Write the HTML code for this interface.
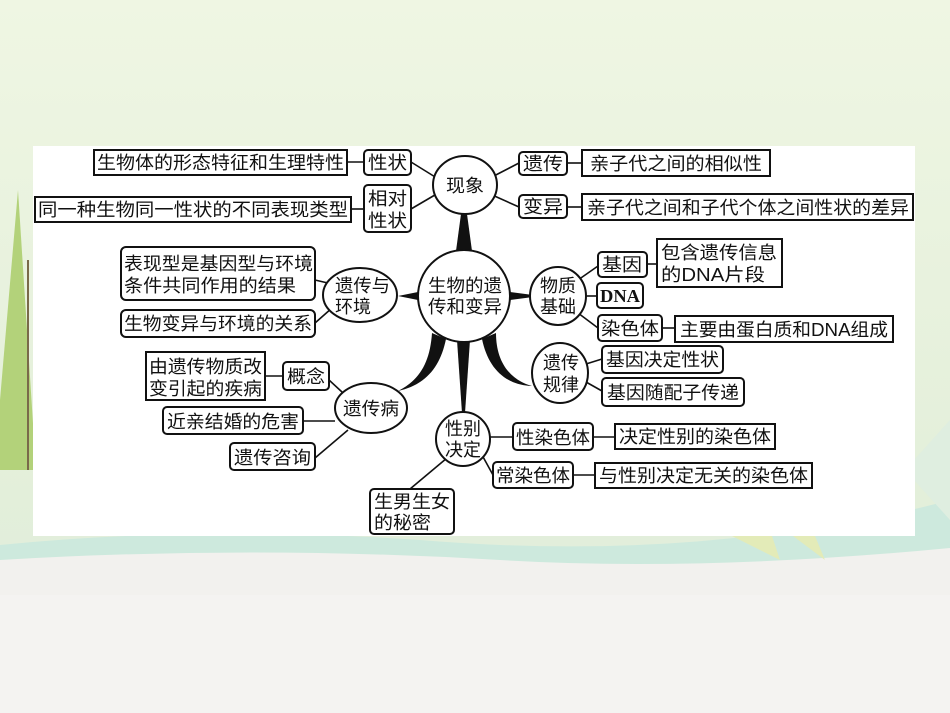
<!DOCTYPE html>
<html><head><meta charset="utf-8"><style>
html,body{margin:0;padding:0;width:950px;height:713px;overflow:hidden}
svg{display:block}
text{font-family:"Liberation Sans","Noto Sans CJK SC","WenQuanYi Zen Hei",sans-serif;font-size:18px;fill:#111}
.b{fill:#fff;stroke:#111;stroke-width:2}
.l{stroke:#111;stroke-width:1.6;fill:none}
</style></head><body>
<svg width="950" height="713" viewBox="0 0 950 713" xmlns="http://www.w3.org/2000/svg">
<defs>
<linearGradient id="bg" x1="0" y1="0" x2="0" y2="1">
<stop offset="0" stop-color="#eff6e3"/><stop offset="0.7" stop-color="#e3efda"/><stop offset="1" stop-color="#dcece0"/>
</linearGradient>
</defs>
<rect width="950" height="713" fill="url(#bg)"/>
<path d="M0 545 Q200 525 420 540 Q600 555 760 535 Q880 520 950 500 L950 713 L0 713Z" fill="#cde9dd"/>
<path d="M0 560 Q250 545 500 560 Q700 572 950 548 L950 713 L0 713Z" fill="#f2f1ee"/>
<rect x="0" y="595" width="950" height="118" fill="#f4f3f1"/>
<path d="M18 190 L0 400 L0 470 L36 470 Z" fill="#b3d27a"/>
<rect x="27" y="260" width="2" height="210" fill="#7a6a4a"/>
<path d="M720 530 L760 500 L780 560 Z" fill="#e3ebb8"/>
<path d="M785 530 L800 500 L825 560 Z" fill="#e3ebb8"/>
<path d="M905 470 L950 420 L950 520 Z" fill="#dfeee0"/>
<rect x="33" y="146" width="882" height="390" fill="#fff"/>

<path d="M461 214 L467 214 L472 251 L456 251 Z" fill="#111"/>
<path d="M510 292 L510 300 L533 297 L533 295 Z" fill="#111"/>
<path d="M418 292 L418 300 L398 296 Z" fill="#111"/>
<path d="M457 340 L470 340 L465 413 L462 413 Z" fill="#111"/>
<path d="M432 333 L446 339 C440 368 425 385 398 391 C420 380 430 362 432 333 Z" fill="#111"/>
<path d="M482 339 L496 333 C496 362 510 380 532 386 C505 385 488 368 482 339 Z" fill="#111"/>

<g class="l">
<line x1="347" y1="162" x2="364" y2="162"/>
<line x1="351" y1="209" x2="364" y2="209"/>
<line x1="411" y1="162" x2="440" y2="180"/>
<line x1="411" y1="209" x2="440" y2="192"/>
<line x1="490" y1="178" x2="519" y2="163"/>
<line x1="490" y1="194" x2="519" y2="207"/>
<line x1="567" y1="163" x2="582" y2="163"/>
<line x1="567" y1="207" x2="582" y2="207"/>
<line x1="315" y1="280" x2="332" y2="284"/>
<line x1="315" y1="323" x2="332" y2="308"/>
<line x1="578" y1="280" x2="598" y2="266"/>
<line x1="586" y1="296" x2="597" y2="296"/>
<line x1="578" y1="313" x2="598" y2="328"/>
<line x1="647" y1="264" x2="657" y2="264"/>
<line x1="662" y1="328" x2="675" y2="328"/>
<line x1="586" y1="364" x2="602" y2="359"/>
<line x1="586" y1="382" x2="602" y2="391"/>
<line x1="265" y1="376" x2="283" y2="376"/>
<line x1="329" y1="380" x2="342" y2="392"/>
<line x1="303" y1="421" x2="335" y2="421"/>
<line x1="315" y1="458" x2="348" y2="430"/>
<line x1="490" y1="437" x2="513" y2="437"/>
<line x1="593" y1="437" x2="615" y2="437"/>
<line x1="482" y1="455" x2="493" y2="475"/>
<line x1="573" y1="475" x2="595" y2="475"/>
<line x1="447" y1="458" x2="410" y2="489"/>
</g>

<ellipse class="b" cx="465" cy="185" rx="32" ry="29"/>
<circle class="b" cx="464" cy="296" r="46"/>
<ellipse class="b" cx="558" cy="296" rx="28" ry="29"/>
<ellipse class="b" cx="360" cy="295" rx="37" ry="27"/>
<ellipse class="b" cx="371" cy="408" rx="36" ry="25"/>
<ellipse class="b" cx="463" cy="439" rx="27" ry="27"/>
<ellipse class="b" cx="560" cy="373" rx="28" ry="30"/>

<rect class="b" x="94" y="150" width="253" height="25"/>
<rect class="b" x="35" y="197" width="316" height="25"/>
<rect class="b" x="582" y="150" width="188" height="26"/>
<rect class="b" x="582" y="194" width="331" height="26"/>
<rect class="b" x="657" y="239" width="125" height="48"/>
<rect class="b" x="675" y="316" width="218" height="26"/>
<rect class="b" x="146" y="352" width="119" height="48"/>
<rect class="b" x="615" y="424" width="160" height="25"/>
<rect class="b" x="595" y="463" width="217" height="25"/>

<g class="b">
<rect x="364" y="150" width="47" height="25" rx="4"/>
<rect x="364" y="185" width="47" height="47" rx="4"/>
<rect x="519" y="152" width="48" height="23" rx="4"/>
<rect x="519" y="195" width="48" height="23" rx="4"/>
<rect x="121" y="247" width="194" height="53" rx="5"/>
<rect x="121" y="310" width="194" height="27" rx="5"/>
<rect x="598" y="252" width="49" height="25" rx="4"/>
<rect x="597" y="283" width="46" height="25" rx="4"/>
<rect x="598" y="315" width="64" height="26" rx="4"/>
<rect x="602" y="346" width="121" height="27" rx="4"/>
<rect x="602" y="378" width="142" height="28" rx="4"/>
<rect x="283" y="362" width="46" height="28" rx="4"/>
<rect x="163" y="407" width="140" height="27" rx="4"/>
<rect x="230" y="443" width="85" height="27" rx="4"/>
<rect x="513" y="423" width="80" height="27" rx="4"/>
<rect x="493" y="462" width="80" height="26" rx="4"/>
<rect x="370" y="489" width="84" height="45" rx="4"/>
</g>

<g>
<text x="97" y="169" textLength="247" lengthAdjust="spacingAndGlyphs">生物体的形态特征和生理特性</text>
<text x="38" y="216" textLength="310" lengthAdjust="spacingAndGlyphs">同一种生物同一性状的不同表现类型</text>
<text x="368" y="169" textLength="39" lengthAdjust="spacingAndGlyphs">性状</text>
<text x="368" y="205" textLength="39" lengthAdjust="spacingAndGlyphs">相对</text>
<text x="368" y="227" textLength="39" lengthAdjust="spacingAndGlyphs">性状</text>
<text x="446" y="192" textLength="38" lengthAdjust="spacingAndGlyphs">现象</text>
<text x="523" y="170" textLength="40" lengthAdjust="spacingAndGlyphs">遗传</text>
<text x="523" y="213" textLength="40" lengthAdjust="spacingAndGlyphs">变异</text>
<text x="590" y="170" textLength="172" lengthAdjust="spacingAndGlyphs">亲子代之间的相似性</text>
<text x="587" y="214" textLength="322" lengthAdjust="spacingAndGlyphs">亲子代之间和子代个体之间性状的差异</text>
<text x="428" y="292" textLength="74" lengthAdjust="spacingAndGlyphs">生物的遗</text>
<text x="428" y="313" textLength="74" lengthAdjust="spacingAndGlyphs">传和变异</text>
<text x="540" y="292" textLength="36" lengthAdjust="spacingAndGlyphs">物质</text>
<text x="540" y="313" textLength="36" lengthAdjust="spacingAndGlyphs">基础</text>
<text x="335" y="292" textLength="55" lengthAdjust="spacingAndGlyphs">遗传与</text>
<text x="335" y="313" textLength="36" lengthAdjust="spacingAndGlyphs">环境</text>
<text x="124" y="270" textLength="189" lengthAdjust="spacingAndGlyphs">表现型是基因型与环境</text>
<text x="124" y="292" textLength="172" lengthAdjust="spacingAndGlyphs">条件共同作用的结果</text>
<text x="124" y="330" textLength="188" lengthAdjust="spacingAndGlyphs">生物变异与环境的关系</text>
<text x="602" y="271" textLength="40" lengthAdjust="spacingAndGlyphs">基因</text>
<text x="661" y="259" textLength="116" lengthAdjust="spacingAndGlyphs">包含遗传信息</text>
<text x="661" y="281" textLength="104" lengthAdjust="spacingAndGlyphs">的DNA片段</text>
<text x="600" y="302" textLength="40" lengthAdjust="spacingAndGlyphs" font-weight="bold" style="font-family:'Liberation Serif',serif">DNA</text>
<text x="601" y="335" textLength="58" lengthAdjust="spacingAndGlyphs">染色体</text>
<text x="680" y="336" textLength="208" lengthAdjust="spacingAndGlyphs">主要由蛋白质和DNA组成</text>
<text x="543" y="369" textLength="36" lengthAdjust="spacingAndGlyphs">遗传</text>
<text x="543" y="391" textLength="36" lengthAdjust="spacingAndGlyphs">规律</text>
<text x="606" y="366" textLength="113" lengthAdjust="spacingAndGlyphs">基因决定性状</text>
<text x="607" y="399" textLength="132" lengthAdjust="spacingAndGlyphs">基因随配子传递</text>
<text x="149" y="373" textLength="113" lengthAdjust="spacingAndGlyphs">由遗传物质改</text>
<text x="149" y="395" textLength="113" lengthAdjust="spacingAndGlyphs">变引起的疾病</text>
<text x="287" y="383" textLength="38" lengthAdjust="spacingAndGlyphs">概念</text>
<text x="343" y="415" textLength="56" lengthAdjust="spacingAndGlyphs">遗传病</text>
<text x="167" y="428" textLength="132" lengthAdjust="spacingAndGlyphs">近亲结婚的危害</text>
<text x="234" y="464" textLength="77" lengthAdjust="spacingAndGlyphs">遗传咨询</text>
<text x="445" y="435" textLength="36" lengthAdjust="spacingAndGlyphs">性别</text>
<text x="445" y="456" textLength="36" lengthAdjust="spacingAndGlyphs">决定</text>
<text x="516" y="444" textLength="74" lengthAdjust="spacingAndGlyphs">性染色体</text>
<text x="619" y="443" textLength="152" lengthAdjust="spacingAndGlyphs">决定性别的染色体</text>
<text x="496" y="482" textLength="74" lengthAdjust="spacingAndGlyphs">常染色体</text>
<text x="599" y="482" textLength="209" lengthAdjust="spacingAndGlyphs">与性别决定无关的染色体</text>
<text x="374" y="508" textLength="76" lengthAdjust="spacingAndGlyphs">生男生女</text>
<text x="374" y="529" textLength="57" lengthAdjust="spacingAndGlyphs">的秘密</text>
</g>
</svg>
</body></html>
